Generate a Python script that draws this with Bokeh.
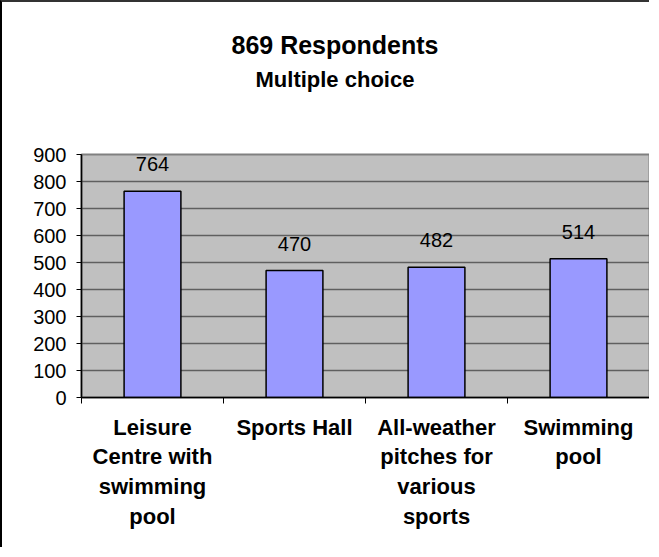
from bokeh.plotting import figure
from bokeh.models import ColumnDataSource, FixedTicker, SingleIntervalTicker, Range1d, Title
from bokeh.core.properties import value
from bokeh.embed import file_html
from bokeh.resources import INLINE

# ---- data ----
categories = [
    "Leisure\nCentre with\nswimming\npool",
    "Sports Hall",
    "All-weather\npitches for\nvarious\nsports",
    "Swimming\npool",
]
values = [764, 470, 482, 514]
title_main = "869 Respondents"
title_sub = "Multiple choice"

# category slot centres on a numeric axis (one unit per category)
xpos = [i + 0.5 for i in range(len(categories))]
boundaries = [float(i) for i in range(len(categories) + 1)]

src = ColumnDataSource(dict(x=xpos, top=values, label=[str(v) for v in values]))

FONT = "Liberation Sans"

p = figure(
    width=649, height=547,
    x_range=Range1d(0, len(categories)), y_range=Range1d(0, 900),
    output_backend="svg", toolbar_location=None,
    min_border_left=79, min_border_right=2, min_border_top=151, min_border_bottom=152,
    background_fill_color="#C0C0C0", border_fill_color="white",
    title=None,
)
p.styles = {"border-left": "2px solid #000000", "border-top": "2px solid #333333"}
p.outline_line_color = "#808080"
p.outline_line_width = 2

p.vbar(x="x", top="top", width=0.4, source=src,
       fill_color="#9999FF", line_color="black", line_width=1.5)
p.text(x="x", y="top", text="label", source=src,
       text_align="center", text_baseline="alphabetic", y_offset=-27,
       text_font=value(FONT), text_font_size="20px", text_color="black")

# grid
p.xgrid.visible = False
p.ygrid.ticker = SingleIntervalTicker(interval=100)
p.ygrid.grid_line_color = "#5f5f5f"
p.ygrid.grid_line_width = 1.5

# y axis
ya = p.yaxis[0]
ya.ticker = SingleIntervalTicker(interval=100)
ya.axis_line_color = "black"
ya.axis_line_width = 1.5
ya.major_tick_line_color = "black"
ya.major_tick_out = 5
ya.major_tick_in = 0
ya.minor_tick_line_color = None
ya.major_label_text_font = FONT
ya.major_label_text_font_size = "20px"
ya.major_label_text_color = "black"
ya.major_label_standoff = 10

# x axis
xa = p.xaxis[0]
xa.ticker = FixedTicker(ticks=xpos, minor_ticks=boundaries)
xa.major_label_overrides = {x: c for x, c in zip(xpos, categories)}
xa.axis_line_color = "black"
xa.axis_line_width = 1.5
xa.major_tick_line_color = None
xa.minor_tick_line_color = "black"
xa.minor_tick_out = 6
xa.minor_tick_in = 0
xa.major_label_text_font = FONT
xa.major_label_text_font_style = "bold"
xa.major_label_text_font_size = "22px"
xa.major_label_text_line_height = 1.19
xa.major_label_text_color = "black"
xa.major_label_standoff = 11

# titles (first added sits closest to the plot)
p.add_layout(Title(text=title_sub, align="left", offset=174, standoff=125,
                   text_font=FONT, text_font_style="bold", text_font_size="22px",
                   text_color="black"), "above")
p.add_layout(Title(text=title_main, align="left", offset=150, standoff=-112,
                   text_font=FONT, text_font_style="bold", text_font_size="25px",
                   text_color="black"), "above")

open("out.html", "w").write(file_html(p, INLINE))
